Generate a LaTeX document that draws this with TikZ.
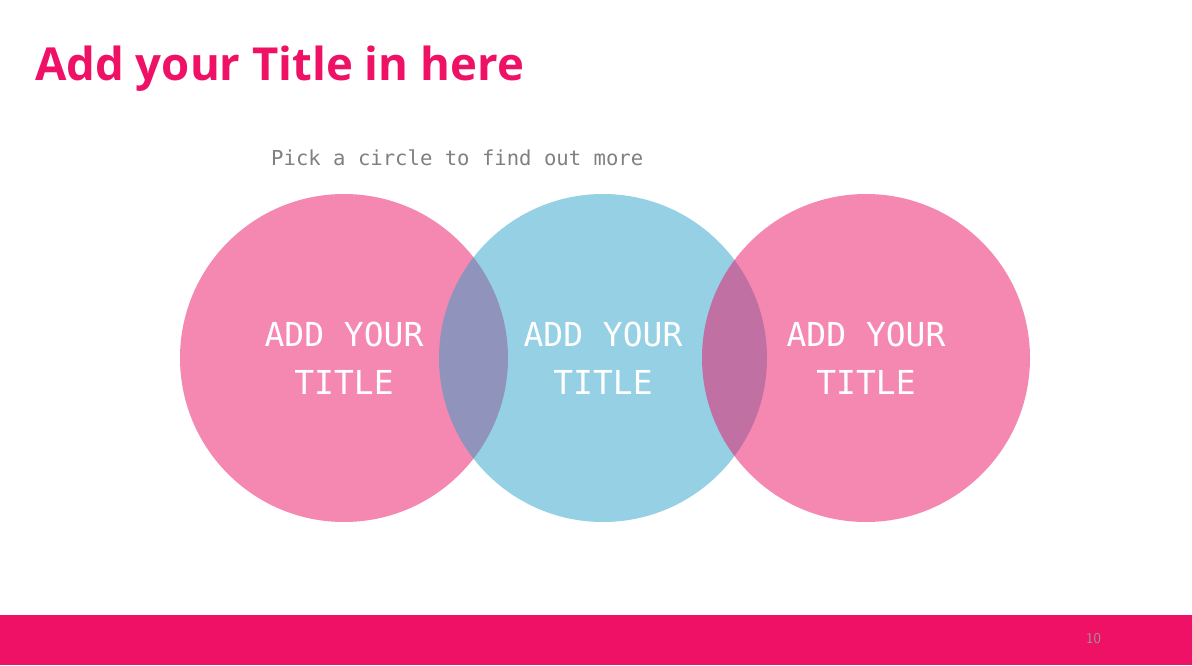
\documentclass[tikz,border=0pt]{standalone}
\usepackage{fontspec}
\setmainfont{Open Sans}
\setmonofont{DejaVu Sans Mono}
\usepackage{tikz}
\usetikzlibrary{positioning}
\definecolor{rose}{RGB}{238,17,102}
\definecolor{pinkc}{RGB}{235,17,97}
\definecolor{bluec}{RGB}{43,161,203}
\definecolor{subgray}{RGB}{128,128,128}
\tikzstyle{circ} = [circle, minimum size=328pt, inner sep=0pt, fill opacity=0.5, text opacity=1, text=white, align=center, font=\fontsize{33}{48}\selectfont\ttfamily]
\tikzstyle{pcirc} = [circ, fill=pinkc]
\tikzstyle{bcirc} = [circ, fill=bluec]

\begin{document}
\begin{tikzpicture}[x=1pt, y=-1pt]
			\useasboundingbox (0, 0) rectangle (1192, 665);
			% heading
			\node [anchor=base west, inner sep=0pt, text=rose, font=\fontsize{45.5}{54}\selectfont\bfseries] (head) at (35, 80) {Add your Title in here};
			\node [anchor=base west, inner sep=0pt, text=subgray, font=\fontsize{20.6}{24}\selectfont\ttfamily] (sub) at (271, 165) {Pick a circle to find out more};
			
			% circles
			\node [pcirc] (left) at (344, 358) {ADD YOUR\\TITLE};
			\node [bcirc] (mid) at (603, 358) {ADD YOUR\\TITLE};
			\node [pcirc] (right) at (866, 358) {ADD YOUR\\TITLE};
			
			% footer
			\fill [rose] (0, 615) rectangle (1192, 665);
			\node [anchor=base west, inner sep=0pt, text=subgray!80!white, font=\fontsize{15}{18}\selectfont\sffamily] (page) at (1086, 643) {10};
		\end{tikzpicture}
\end{document}
